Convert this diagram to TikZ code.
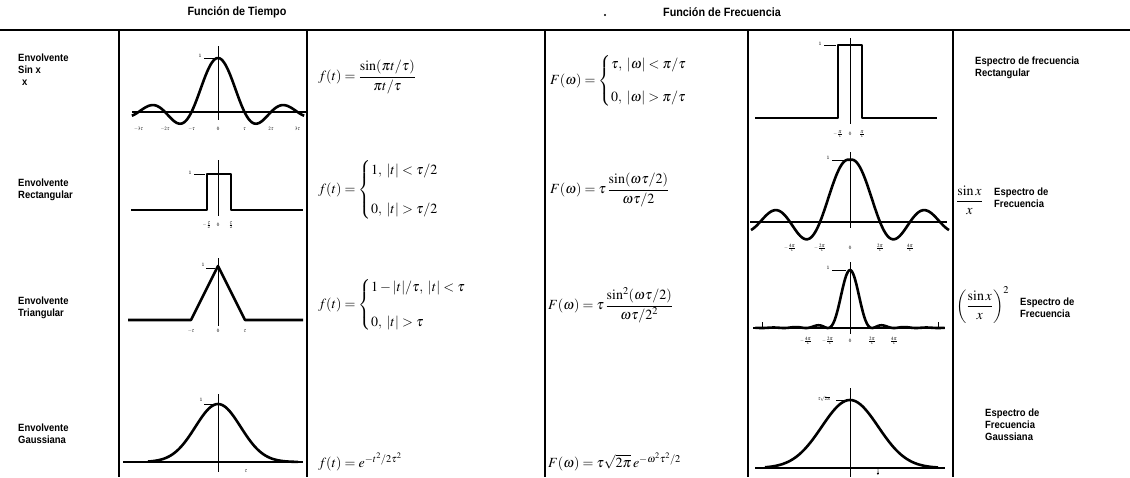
\documentclass[tikz,border=0pt]{standalone}
\usepackage{amsmath}
\usepackage{mathptmx}
\usepackage{fontspec}
\newfontfamily\labfont[FakeStretch=0.9]{Liberation Sans}

\begin{document}
\begin{tikzpicture}[x=1pt,y=-1pt,
  rule/.style={line width=1.8pt},
  curve/.style={line width=2.6pt,line join=round},
  base/.style={line width=1.8pt},
  axisline/.style={line width=0.9pt},
  lab/.style={font=\labfont\bfseries\fontsize{10.5}{12}\selectfont,align=left,anchor=west,inner sep=0pt},
  head/.style={font=\labfont\bfseries\fontsize{12}{13}\selectfont,inner sep=0pt},
  formula/.style={font=\fontsize{14}{16}\selectfont,anchor=west,inner sep=0pt},
  tick/.style={font=\fontsize{5}{6}\selectfont,inner sep=0pt},
  declare function={sincf(\u)=sin(180*\u)/(pi*\u);}]
\useasboundingbox (0,0) rectangle (1130,477);

% headers
\node[head] (htime) at (237,12) {Función de Tiempo};
\node[circle,fill,inner sep=0.8pt] (hdot) at (605,15) {};
\node[head] (hfreq) at (722,12) {Función de Frecuencia};

% table rules
\draw[rule] (0,30) -- (1130,30);
\foreach \x in {119,307,545,748,953}
  \draw[rule] (\x,30) -- (\x,477);

% row labels
\node[lab] (lsinc) at (18,70) {Envolvente\\Sin x\\\hspace*{4pt}x};
\node[lab] (lrect) at (18,190) {Envolvente\\Rectangular};
\node[lab] (ltri) at (18,308) {Envolvente\\Triangular};
\node[lab] (lgauss) at (18,434) {Envolvente\\Gaussiana};

% time graphs
\begin{scope}[shift={(218,112)}]
  \draw[base] (-86,0) -- (88,0);
  \draw[axisline] (0,-66) -- (0,8);
  \draw[curve] plot[domain=-3.25:3.25,samples=130,smooth] ({26.5*\x},{-54*sincf(\x)});
  \draw[axisline] (-14,-54) -- (-3,-54);
  \node[tick] (t1a) at (-18,-56) {1};
  \foreach \k/\t in {-3/-3\tau,-2/-2\tau,-1/-\tau,0/0,1/\tau,2/2\tau,3/3\tau}
    \node[tick] at ({26.5*\k},17) {$\t$};
\end{scope}

\begin{scope}[shift={(218,210)}]
  \draw[axisline] (0,-50) -- (0,6);
  \draw[curve] (-87,0) -- (-11,0) -- (-11,-36) -- (13,-36) -- (13,0) -- (85,0);
  \draw[axisline] (-24,-36) -- (-13,-36);
  \node[tick] (t2a) at (-28,-37) {1};
  \node[tick] at (-11,15) {$-\frac{\tau}{2}$};
  \node[tick] at (0,15) {$0$};
  \node[tick] at (13,15) {$\frac{\tau}{2}$};
\end{scope}

\begin{scope}[shift={(218,320)}]
  \draw[axisline] (0,-62) -- (0,6);
  \draw[curve] (-90,0) -- (-27,0) -- (0,-54) -- (27,0) -- (85,0);
  \draw[axisline] (-12,-52) -- (-3,-52);
  \node[tick] (t3a) at (-15,-55) {1};
  \node[tick] at (-27,11) {$-\tau$};
  \node[tick] at (0,11) {$0$};
  \node[tick] at (27,11) {$\tau$};
\end{scope}

\begin{scope}[shift={(218,462)}]
  \draw[base] (-95,0) -- (85,0);
  \draw[axisline] (0,-68) -- (0,10);
  \draw[curve] plot[domain=-70:80,samples=80,smooth] (\x,{-58*exp(-(\x/32)^2)});
  \draw[axisline] (-14,-58) -- (-3,-58);
  \node[tick] (t4a) at (-17,-62) {1};
  \node[tick] at (28,9) {$\tau$};
\end{scope}

% time formulas
\node[formula] (ft1) at (318,77) {$f(t) = \dfrac{\sin(\pi t/\tau)}{\pi t/\tau}$};
\node[formula] (ft2) at (318,190) {$f(t) = \begin{cases} 1,\;|t| < \tau/2 \\[20pt] 0,\;|t| > \tau/2 \end{cases}$};
\node[formula] (ft3) at (318,305) {$f(t) = \begin{cases} 1-|t|/\tau,\;|t| < \tau \\[16pt] 0,\;|t| > \tau \end{cases}$};
\node[formula] (ft4) at (318,462) {$f(t) = e^{-t^2/2\tau^2}$};

% frequency formulas
\node[formula] (fw1) at (550,81) {$F(\omega) = \begin{cases} \tau,\;|\omega| < \pi/\tau \\[14pt] 0,\;|\omega| > \pi/\tau \end{cases}$};
\node[formula] (fw2) at (550,190) {$F(\omega) = \tau\,\dfrac{\sin(\omega\tau/2)}{\omega\tau/2}$};
\node[formula] (fw3) at (548,305) {$F(\omega) = \tau\,\dfrac{\sin^2(\omega\tau/2)}{\omega\tau/2^2}$};
\node[formula] (fw4) at (548,462) {$F(\omega) = \tau\sqrt{2\pi}\,e^{-\omega^2\tau^2/2}$};

% frequency graphs
\begin{scope}[shift={(850,118)}]
  \draw[axisline] (0,-80) -- (0,6);
  \draw[curve] (-95,0) -- (-12,0) -- (-12,-73) -- (12,-73) -- (12,0) -- (87,0);
  \draw[axisline] (-26,-73) -- (-14,-73);
  \node[tick] (w1a) at (-30,-74) {1};
  \node[tick] at (-12,16) {$-\frac{\pi}{\tau}$};
  \node[tick] at (0,16) {$0$};
  \node[tick] at (12,16) {$\frac{\pi}{\tau}$};
\end{scope}

\begin{scope}[shift={(850,222)}]
  \draw[base] (-100,0) -- (97,0);
  \draw[axisline] (0,-70) -- (0,6);
  \draw[curve] plot[domain=-3.3:3.3,samples=130,smooth] ({30*\x},{-62*sincf(\x)*(1+0.2*abs(\x))});
  \draw[axisline] (-18,-62) -- (-4,-62);
  \node[tick] (w2a) at (-22,-64) {1};
  \foreach \k/\t in {-2/-\frac{4\pi}{\tau},-1/-\frac{2\pi}{\tau},0/0,1/\frac{2\pi}{\tau},2/\frac{4\pi}{\tau}}
    \node[tick] at ({30*\k},26) {$\t$};
\end{scope}

\begin{scope}[shift={(850,328)}]
  \draw[base] (-97,0) -- (95,0);
  \draw[axisline] (0,-66) -- (0,6);
  \foreach \k in {-4,4}
    \draw[axisline] ({22*\k},0) -- ({22*\k},-6);
  \draw[curve] plot[domain=-4.3:4.3,samples=140,smooth] ({22*\x},{-58*sincf(\x)^2});
  \draw[axisline] (-18,-58) -- (-4,-58);
  \node[tick] (w3a) at (-22,-60) {1};
  \foreach \k/\t in {-2/-\frac{4\pi}{\tau},-1/-\frac{2\pi}{\tau},0/0,1/\frac{2\pi}{\tau},2/\frac{4\pi}{\tau}}
    \node[tick] at ({22*\k},13) {$\t$};
\end{scope}

\begin{scope}[shift={(850,468)}]
  \draw[base] (-95,0) -- (95,0);
  \draw[axisline] (0,-80) -- (0,9);
  \draw[curve] plot[domain=-85:88,samples=90,smooth] (\x,{-68*exp(-(\x/40)^2)});
  \draw[axisline] (-14,-68) -- (-3,-68);
  \node[tick] (w4a) at (-26,-69) {$\tau\sqrt{2\pi}$};
  \node[tick] at (28,4.5) {$\frac{1}{\tau}$};
\end{scope}

% right labels
\node[lab] (rrect) at (975,68) {Espectro de frecuencia\\Rectangular};
\node[formula] (rsinc) at (956,200) {$\dfrac{\sin x}{x}$};
\node[lab] (rsincl) at (994,198) {Espectro de\\Frecuencia};
\node[formula] (rsinc2) at (956,305) {$\left(\dfrac{\sin x}{x}\right)^{2}$};
\node[lab] (rsinc2l) at (1020,308) {Espectro de\\Frecuencia};
\node[lab] (rgauss) at (985,425) {Espectro de\\Frecuencia\\Gaussiana};
\end{tikzpicture}
\end{document}
